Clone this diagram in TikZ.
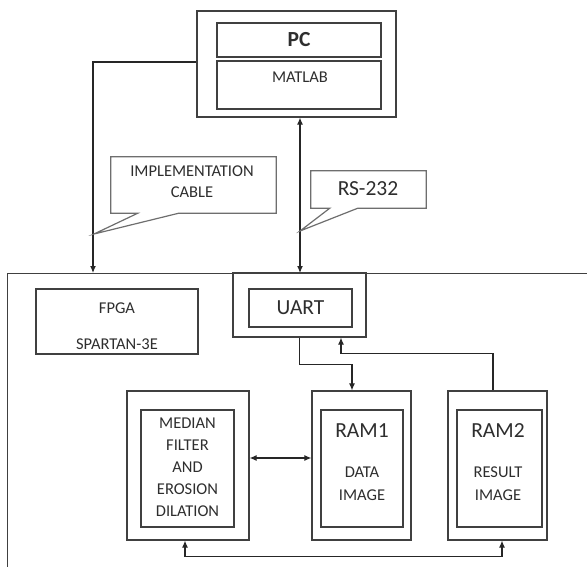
\documentclass[tikz,border=0pt]{standalone}
\usepackage{fontspec}
\setmainfont{Carlito}
\usetikzlibrary{arrows.meta}

\definecolor{linecol}{HTML}{404040}
\definecolor{callcol}{HTML}{6E6E6E}
\definecolor{textcol}{HTML}{2E2E2E}
\newcommand{\smallfont}{\fontsize{16.5}{22}\selectfont}
\newcommand{\bigfont}{\fontsize{21.5}{25}\selectfont}

\tikzset{
	box/.style={draw=linecol,line width=1.2pt,rectangle,inner sep=0pt,text=textcol},
	callout/.style={draw=callcol,line width=1.2pt,fill=white},
	wire/.style={draw=black!85,line width=1.1pt},
	arr/.style={wire,-{Latex[length=7pt,width=6pt]}},
	darr/.style={wire,{Latex[length=7pt,width=6pt]}-{Latex[length=7pt,width=6pt]}}
}

\begin{document}
\begin{tikzpicture}[x=1pt,y=-1pt,font=\smallfont]
		\useasboundingbox (0,0) rectangle (587,567);
		
		\node[box,minimum width=199pt,minimum height=106pt] (pcouter) at (296.5,64){};
		\node[box,minimum width=164pt,minimum height=34pt,font=\bigfont\bfseries] (pc) at (299,40){PC};
		\node[box,minimum width=164pt,minimum height=48pt] (matlab) at (299,85){};
		\node[text=textcol] (matlablbl) at (300,77.5){MATLAB};
		
		\node[box,anchor=north west,minimum width=620pt,minimum height=320pt] (board) at (7,273){};
		
		\coordinate (fpgain) at (93,273);
		\coordinate (uartin) at (300,273);
		\draw[arr] ([yshift=2pt]pcouter.west) -| (fpgain);
		\draw[darr] (uartin |- pcouter.south) -- (uartin);
		
		\node[text=textcol,minimum width=165pt,minimum height=56pt,inner sep=0pt] (impl) at (193.5,185){};
		\coordinate (impltip) at (94,234);
		\draw[callout] (impl.south west) -- (impl.north west) -- (impl.north east) -- (impl.south east) -- ([xshift=68pt]impl.south west) -- (impltip) -- ([xshift=27pt]impl.south west) -- cycle;
		\node[text=textcol] (impllbl) at (192,182.5){\begin{tabular}{c}IMPLEMENTATION\\[-1pt]CABLE\end{tabular}};
		
		\node[text=textcol,minimum width=115pt,minimum height=37pt,inner sep=0pt] (rs) at (368.5,189.5){};
		\coordinate (rstip) at (300,231);
		\draw[callout] (rs.south west) -- (rs.north west) -- (rs.north east) -- (rs.south east) -- ([xshift=47pt]rs.south west) -- (rstip) -- ([xshift=19pt]rs.south west) -- cycle;
		\node[text=textcol,font=\bigfont] (rslbl) at (368,189){RS-232};
		
		\node[box,minimum width=162pt,minimum height=65pt] (fpga) at (117,321.5){};
		\node[text=textcol] (fpgalbl) at (117,327){\begin{tabular}{c}FPGA\\[14pt]SPARTAN-3E\end{tabular}};
		
		\node[box,minimum width=133pt,minimum height=64pt] (uartouter) at (299.5,305){};
		\node[box,minimum width=103pt,minimum height=38pt,font=\bigfont] (uart) at (300.5,308){UART};
		
		\node[box,minimum width=122pt,minimum height=149pt] (medouter) at (188,465.5){};
		\node[box,minimum width=93pt,minimum height=117pt] (medinner) at (187.5,468.5){\begin{tabular}{c}MEDIAN\\FILTER\\AND\\EROSION\\DILATION\end{tabular}};
		
		\node[box,minimum width=99pt,minimum height=149pt] (ram1outer) at (361.5,465.5){};
		\node[box,minimum width=82pt,minimum height=117pt] (ram1inner) at (362,468.5){};
		\node[text=textcol,font=\bigfont] (ram1lbl) at (362,431){RAM1};
		\node[text=textcol] (datalbl) at (362,484.5){\begin{tabular}{c}DATA\\[1.5pt]IMAGE\end{tabular}};
		
		\node[box,minimum width=99pt,minimum height=149pt] (ram2outer) at (497.5,465.5){};
		\node[box,minimum width=85pt,minimum height=117pt] (ram2inner) at (499.5,468.5){};
		\node[text=textcol,font=\bigfont] (ram2lbl) at (498,431){RAM2};
		\node[text=textcol] (resultlbl) at (498,484.5){\begin{tabular}{c}RESULT\\[1.5pt]IMAGE\end{tabular}};
		
		\draw[arr] (uartouter.south) -- ++(0,27) -| ([xshift=-9.5pt]ram1outer.north);
		\draw[arr] ([xshift=-4.5pt]ram2outer.north) -- ++(0,-37) -| ([xshift=41.5pt]uartouter.south);
		\draw[darr] ([yshift=7.5pt]medouter.east) -- ([yshift=7.5pt]ram1outer.west);
		\draw[darr] ([xshift=-3pt]medouter.south) -- ++(0,16) -| ([xshift=4.5pt]ram2outer.south);
	\end{tikzpicture}
\end{document}
